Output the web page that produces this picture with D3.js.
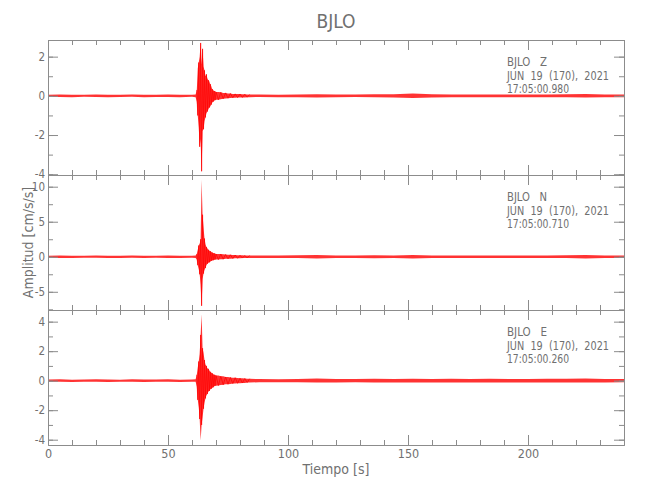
<!DOCTYPE html>
<html><head><meta charset="utf-8">
<script src="https://cdn.jsdelivr.net/npm/d3@7"></script>
<style>
html,body{margin:0;padding:0;background:#fff;}
text{font-family:"Liberation Sans Narrow","DejaVu Sans Condensed","Roboto Condensed",sans-serif;fill:#707070;}
.ann{white-space:pre;}
</style></head><body>
<svg id="c" width="650" height="500"></svg>
<script>
// ---- data ----
const stationName = "BJLO";
const components = ["Z", "N", "E"];
const dateLabel = "JUN  19  (170),  2021";
const startTimes = ["17:05:00.980", "17:05:00.710", "17:05:00.260"];
const xTitle = "Tiempo [s]";
const yTitle = "Amplitud [cm/s/s]";
const xDomain = [0, 240];
const xMajorTicks = [0, 50, 100, 150, 200];
const xMinorTicks = [0,10,20,30,40,50,60,70,80,90,100,110,120,130,140,150,160,170,180,190,200,210,220,230,240];

// sample times (s) of the envelope readings
const times = [0,5,10,15,20,25,30,35,40,45,50,55,60,61.5,
  62.0,62.4,62.8,63.2,63.6,64.0,64.4,64.8,65.2,65.6,66.0,66.4,66.8,67.2,67.6,68.0,68.4,68.8,69.2,69.6,70.0,
  71,72,73,74,75,76,77,78,79,80,81,82,83,84,
  88,96,104,112,120,128,136,144,152,160,168,176,184,192,200,208,216,224,232,240];
const burstWindow = [62, 84];

// Z component: upper / lower envelope (cm/s/s)
const zUpper = [0.06,0.07,0.05,0.06,0.07,0.06,0.05,0.07,0.06,0.06,0.07,0.05,0.06,0.07,
  0.3,1.4,1.7,2.0,2.7,1.6,2.4,1.5,1.3,1.0,1.1,0.9,0.8,0.75,0.6,0.5,0.35,0.3,0.25,0.25,0.2,
  0.2,0.18,0.15,0.15,0.12,0.12,0.1,0.1,0.1,0.09,0.08,0.08,0.07,0.07,
  0.07,0.06,0.07,0.08,0.07,0.07,0.08,0.08,0.12,0.08,0.07,0.07,0.07,0.07,0.07,0.07,0.08,0.09,0.07,0.07];
const zLower = [-0.06,-0.06,-0.07,-0.05,-0.06,-0.07,-0.06,-0.05,-0.07,-0.06,-0.06,-0.07,-0.05,-0.07,
  -0.3,-1.0,-1.6,-2.6,-2.2,-3.85,-1.8,-1.7,-1.3,-1.1,-0.9,-0.8,-0.7,-0.6,-0.55,-0.45,-0.35,-0.3,-0.25,-0.22,-0.2,
  -0.2,-0.17,-0.15,-0.14,-0.12,-0.11,-0.1,-0.1,-0.09,-0.09,-0.08,-0.08,-0.07,-0.07,
  -0.06,-0.07,-0.07,-0.08,-0.07,-0.06,-0.07,-0.08,-0.11,-0.08,-0.07,-0.07,-0.07,-0.07,-0.07,-0.07,-0.07,-0.08,-0.07,-0.07];

// N component
const nUpper = [0.15,0.17,0.14,0.16,0.17,0.15,0.14,0.17,0.16,0.15,0.17,0.14,0.16,0.17,
  0.4,1.0,1.6,1.9,2.5,11.0,6.0,4.2,2.6,1.8,1.4,1.2,1.0,0.9,0.8,0.7,0.6,0.55,0.5,0.45,0.4,
  0.4,0.38,0.35,0.32,0.3,0.28,0.26,0.24,0.22,0.21,0.2,0.19,0.18,0.18,
  0.18,0.17,0.2,0.25,0.18,0.17,0.22,0.18,0.25,0.18,0.17,0.18,0.17,0.17,0.17,0.18,0.2,0.25,0.18,0.17];
const nLower = [-0.15,-0.16,-0.17,-0.14,-0.15,-0.17,-0.16,-0.14,-0.17,-0.15,-0.16,-0.17,-0.14,-0.16,
  -0.4,-1.2,-1.8,-2.5,-4.0,-7.0,-3.2,-2.4,-1.9,-1.6,-1.2,-1.0,-0.9,-0.8,-0.7,-0.6,-0.55,-0.5,-0.45,-0.4,-0.4,
  -0.4,-0.36,-0.34,-0.3,-0.3,-0.27,-0.25,-0.23,-0.22,-0.2,-0.19,-0.18,-0.17,-0.17,
  -0.17,-0.18,-0.19,-0.24,-0.18,-0.17,-0.2,-0.18,-0.24,-0.19,-0.17,-0.18,-0.17,-0.17,-0.18,-0.17,-0.19,-0.24,-0.18,-0.17];

// E component
const eUpper = [0.08,0.09,0.07,0.08,0.09,0.08,0.07,0.09,0.08,0.08,0.09,0.07,0.08,0.09,
  0.4,0.9,1.3,1.8,3.1,4.5,2.2,1.9,1.4,1.1,1.0,0.85,0.8,0.7,0.6,0.55,0.5,0.45,0.4,0.4,0.35,
  0.35,0.3,0.3,0.25,0.25,0.22,0.2,0.2,0.18,0.17,0.16,0.15,0.13,0.13,
  0.11,0.1,0.12,0.14,0.12,0.11,0.13,0.12,0.13,0.12,0.13,0.12,0.13,0.12,0.12,0.13,0.13,0.14,0.12,0.12];
const eLower = [-0.08,-0.08,-0.09,-0.07,-0.08,-0.09,-0.08,-0.07,-0.09,-0.08,-0.08,-0.09,-0.07,-0.08,
  -0.4,-1.3,-1.8,-2.6,-4.05,-3.0,-2.5,-1.9,-1.5,-1.2,-1.0,-0.9,-0.75,-0.7,-0.6,-0.55,-0.5,-0.45,-0.4,-0.35,-0.35,
  -0.33,-0.3,-0.28,-0.25,-0.24,-0.22,-0.2,-0.19,-0.18,-0.17,-0.16,-0.15,-0.13,-0.13,
  -0.1,-0.1,-0.11,-0.13,-0.12,-0.11,-0.12,-0.12,-0.13,-0.12,-0.12,-0.13,-0.12,-0.12,-0.13,-0.12,-0.13,-0.13,-0.12,-0.11];

const yDomains = [[-4.04, 2.85], [-7.6, 11.67], [-4.36, 4.79]];
const yMajorTicks = [[-4,-2,0,2], [-5,0,5,10], [-4,-2,0,2,4]];
const yMinorTicks = [[-4,-3,-2,-1,0,1,2], [-7.5,-5,-2.5,0,2.5,5,7.5,10], [-4,-3,-2,-1,0,1,2,3,4]];

const uppers = [zUpper, nUpper, eUpper];
const lowers = [zLower, nLower, eLower];

// ---- drawing ----
const svg = d3.select('#c');
const left = 48, right = 624, top0 = 40, ph = 135;
const axisColor = '#8c8c8c';
const x = d3.scaleLinear().domain(xDomain).range([left, right]);
const fmt = d => String(d);
const annWidths = [40, 102, 62];

svg.append('text').attr('x', (left + right) / 2).attr('y', 28)
  .attr('text-anchor', 'middle').attr('font-size', 19).text(stationName);

components.forEach((comp, i) => {
  const y0 = top0 + i * ph;
  const y = d3.scaleLinear().domain(yDomains[i]).range([y0 + ph, y0]);
  const g = svg.append('g');
  const pts = times.map((t, k) => ({t: t, hi: uppers[i][k], lo: lowers[i][k]}));

  g.append('path').datum(pts)
    .attr('d', d3.area().x(d => x(d.t)).y0(d => y(d.lo)).y1(d => y(d.hi)))
    .attr('fill', '#ff0000').attr('fill-opacity', 0.8);
  const burst = pts.filter(d => d.t >= burstWindow[0] && d.t <= burstWindow[1]);
  g.append('path').datum(burst)
    .attr('d', d3.line().x(d => x(d.t)).y((d, k) => y(k % 2 ? d.lo : d.hi)))
    .attr('fill', 'none').attr('stroke', '#ff0000').attr('stroke-width', 0.7);

  const axG = svg.append('g');
  function styleAxis(sel) {
    sel.selectAll('path').attr('stroke', axisColor);
    sel.selectAll('line').attr('stroke', axisColor);
    sel.selectAll('text').attr('fill', '#707070').attr('font-size', 11.5)
      .attr('font-family', '"Liberation Sans Narrow","DejaVu Sans Condensed",sans-serif');
  }
  axG.append('g').attr('transform', `translate(${left},0)`)
    .call(d3.axisLeft(y).tickValues(yMajorTicks[i]).tickSizeInner(-10).tickSizeOuter(0).tickPadding(3).tickFormat(fmt))
    .call(styleAxis);
  axG.append('g').attr('transform', `translate(${left},0)`)
    .call(d3.axisLeft(y).tickValues(yMinorTicks[i]).tickSizeInner(-5).tickSizeOuter(0).tickFormat(''))
    .call(styleAxis);
  axG.append('g').attr('transform', `translate(${right},0)`)
    .call(d3.axisRight(y).tickValues(yMajorTicks[i]).tickSizeInner(-10).tickSizeOuter(0).tickFormat(''))
    .call(styleAxis);
  axG.append('g').attr('transform', `translate(${right},0)`)
    .call(d3.axisRight(y).tickValues(yMinorTicks[i]).tickSizeInner(-5).tickSizeOuter(0).tickFormat(''))
    .call(styleAxis);
  axG.append('g').attr('transform', `translate(0,${y0})`)
    .call(d3.axisTop(x).tickValues(xMajorTicks).tickSizeInner(-10).tickSizeOuter(0).tickFormat(''))
    .call(styleAxis);
  axG.append('g').attr('transform', `translate(0,${y0})`)
    .call(d3.axisTop(x).tickValues(xMinorTicks).tickSizeInner(-5).tickSizeOuter(0).tickFormat(''))
    .call(styleAxis);
  const last = i === components.length - 1;
  const bottomAx = axG.append('g').attr('transform', `translate(0,${y0 + ph})`)
    .call(d3.axisBottom(x).tickValues(xMajorTicks).tickSizeInner(-10).tickSizeOuter(0).tickPadding(4).tickFormat(last ? fmt : ''))
    .call(styleAxis);
  bottomAx.selectAll('text').attr('font-size', 12.5);
  axG.append('g').attr('transform', `translate(0,${y0 + ph})`)
    .call(d3.axisBottom(x).tickValues(xMinorTicks).tickSizeInner(-5).tickSizeOuter(0).tickFormat(''))
    .call(styleAxis);

  const lines = [stationName + "   " + comp, dateLabel, startTimes[i]];
  lines.forEach((s, k) => {
    svg.append('text').attr('class', 'ann').attr('x', 507).attr('y', y0 + 26 + k * 13.5)
      .attr('font-size', 12.5).attr('textLength', annWidths[k]).attr('lengthAdjust', 'spacingAndGlyphs').text(s);
  });
});

svg.append('text').attr('x', (left + right) / 2).attr('y', 474)
  .attr('text-anchor', 'middle').attr('font-size', 14).text(xTitle);
svg.append('text').attr('transform', `translate(33,${(top0 + top0 + 3 * ph) / 2}) rotate(-90)`)
  .attr('text-anchor', 'middle').attr('font-size', 14).text(yTitle);
</script>
</body></html>
